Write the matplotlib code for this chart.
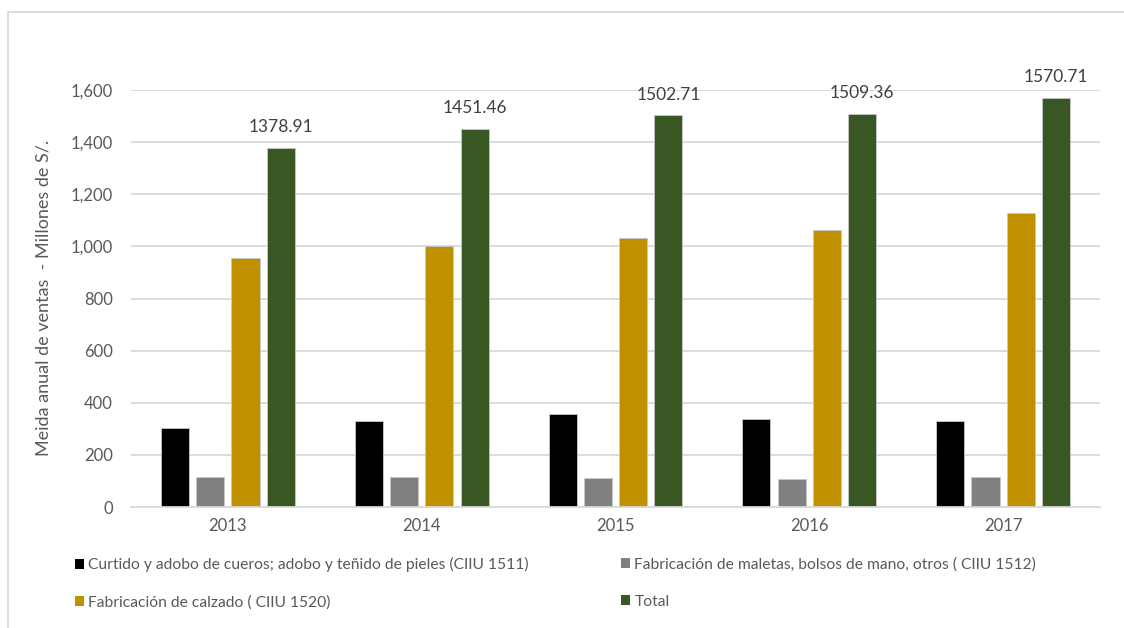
import matplotlib
matplotlib.use("Agg")
import matplotlib.pyplot as plt
from matplotlib.patches import Rectangle, Patch
from matplotlib.ticker import FuncFormatter
import numpy as np

plt.rcParams['font.family'] = ['Lato', 'DejaVu Sans']

years = ["2013", "2014", "2015", "2016", "2017"]
curtido = [303, 330, 357, 338, 330]
maletas = [115, 115, 111, 107, 115]
calzado = [955, 1003, 1033, 1062, 1128]
total = [1378.91, 1451.46, 1502.71, 1509.36, 1570.71]

series_names = [
    "Curtido y adobo de cueros; adobo y teñido de pieles (CIIU 1511)",
    "Fabricación de maletas, bolsos de mano, otros ( CIIU 1512)",
    "Fabricación de calzado ( CIIU 1520)",
    "Total",
]
colors = ["#000000", "#808080", "#BF9000", "#385723"]

W, H = 1124, 628
fig = plt.figure(figsize=(W / 100, H / 100), dpi=100)

# outer chart-area frame
fig.patches.append(Rectangle((8 / W, -0.05), 1.2, (H - 12) / H + 0.05,
                             transform=fig.transFigure, fill=False,
                             edgecolor="#d9d9d9", linewidth=1.3))

ax = fig.add_axes([131 / W, (H - 507) / H, (1100 - 131) / W, (507 - 90) / H])

x = np.arange(len(years))
bw = 0.145
step = 0.182
offsets = [-1.5 * step, -0.5 * step, 0.5 * step, 1.5 * step]
handles = []
for vals, off, col, name in zip([curtido, maletas, calzado, total], offsets, colors, series_names):
    ax.bar(x + off, vals, width=bw, color=col, edgecolor="#c8c8c8", linewidth=0.6)
    handles.append(Patch(facecolor=col, edgecolor="none", label=name))

for xi, v in zip(x + offsets[3], total):
    ax.annotate(f"{v:.2f}", (xi, v), xytext=(0, 9), textcoords="offset points",
                ha="center", va="bottom", fontsize=12.5, color="#404040", clip_on=False)

ax.set_xlim(-0.5, len(years) - 0.5)
ax.set_ylim(0, 1600)
ax.set_yticks(np.arange(0, 1601, 200))
ax.yaxis.set_major_formatter(FuncFormatter(lambda v, p: f"{int(v):,}"))
ax.set_xticks(x)
ax.set_xticklabels(years)
ax.tick_params(axis="both", length=0, labelsize=12, colors="#595959", pad=8)
ax.tick_params(axis="y", pad=13)
ax.grid(axis="y", color="#d9d9d9", linewidth=1.3)
ax.set_axisbelow(True)
for s in ["top", "right", "left"]:
    ax.spines[s].set_visible(False)
ax.spines["bottom"].set_color("#d9d9d9")
ax.spines["bottom"].set_linewidth(1.3)

fig.text(44 / W, (H - 298) / H, "Meida anual de ventas  - Millones de S/.",
         rotation=90, ha="center", va="center", fontsize=13, color="#595959")

leg_kw = dict(frameon=False, fontsize=11.25, labelcolor="#595959", handlelength=0.55,
              handleheight=0.6, handletextpad=0.3, labelspacing=1.5, borderpad=0,
              borderaxespad=0, loc="upper left")
leg1 = fig.legend(handles=[handles[0], handles[2]], bbox_to_anchor=(75 / W, (H - 557) / H), **leg_kw)
leg2 = fig.legend(handles=[handles[1], handles[3]], bbox_to_anchor=(621 / W, (H - 557) / H), **leg_kw)

fig.savefig("out.png", dpi=100)
